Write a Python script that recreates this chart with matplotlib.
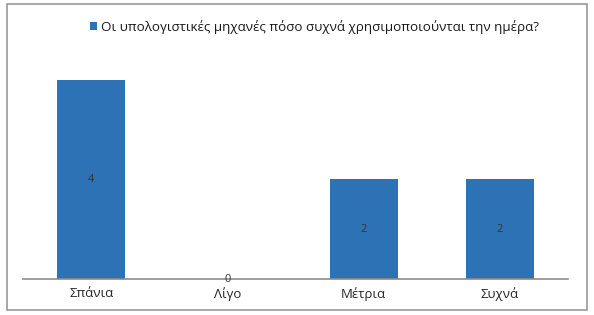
import matplotlib.pyplot as plt
from matplotlib.patches import Rectangle

categories = ["Σπάνια", "Λίγο", "Μέτρια", "Συχνά"]
values = [4, 0, 2, 2]
series_name = "Οι υπολογιστικές μηχανές πόσο συχνά χρησιμοποιούνται την ημέρα?"

plt.rcParams['font.family'] = ['Open Sans', 'DejaVu Sans']

fig = plt.figure(figsize=(5.94, 3.15), dpi=100)
ax = fig.add_axes([23 / 594, 1 - 279 / 315, 545 / 594, 224 / 315])

bars = ax.bar(range(len(categories)), values, width=0.5, color="#2e72b6",
              label=series_name, zorder=2)
ax.set_xlim(-0.5, len(categories) - 0.5)
ax.set_ylim(0, 4.5)

# value labels in the middle of each bar
for i, v in enumerate(values):
    ax.text(i, v / 2, str(v), ha="center", va="center", fontsize=8,
            color="#333333", zorder=3)

ax.set_xticks(range(len(categories)))
ax.set_xticklabels(categories, fontsize=9.5, color="#262626")
ax.tick_params(axis="x", length=0, pad=6)
ax.set_yticks([])
for side in ["top", "right", "left"]:
    ax.spines[side].set_visible(False)
ax.spines["bottom"].set_color("#8c8c8c")
ax.spines["bottom"].set_linewidth(1.2)

leg = fig.legend(handles=[bars], labels=[series_name], loc="center",
                 bbox_to_anchor=(0.53, 1 - 27 / 315), frameon=False,
                 fontsize=9.6, handlelength=0.55, handleheight=0.55,
                 handletextpad=0.3)
for t in leg.get_texts():
    t.set_color("#1a1a1a")

# chart border
fig.patches.append(Rectangle((7 / 594, 1 - 310 / 315), 580 / 594, 306 / 315,
                             transform=fig.transFigure, fill=False,
                             edgecolor="#9a9a9a", linewidth=1.2))

fig.savefig("out.png", dpi=100)
